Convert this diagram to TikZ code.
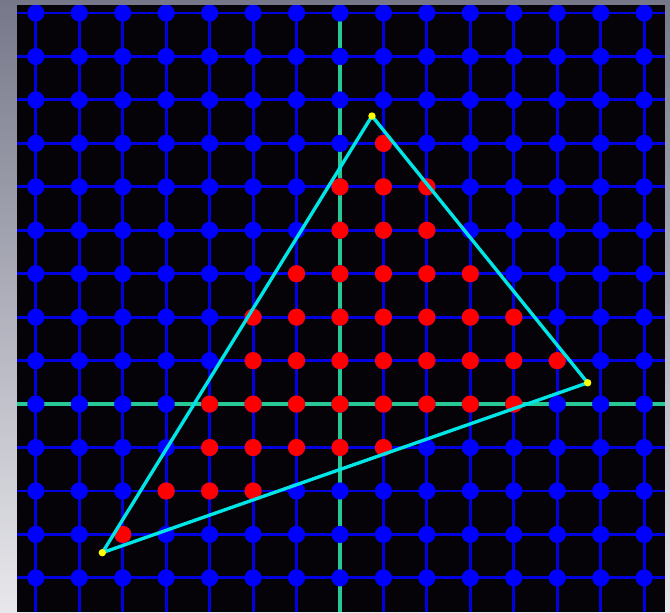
\documentclass[tikz,border=0pt]{standalone}
\definecolor{bgtop}{RGB}{118,120,138}
\definecolor{bgbot}{RGB}{232,232,236}
\definecolor{field}{RGB}{5,3,8}
\definecolor{gridblue}{RGB}{0,0,225}
\definecolor{dotblue}{RGB}{0,0,255}
\definecolor{axisgreen}{RGB}{40,200,150}
\definecolor{edgecyan}{RGB}{0,230,230}
\definecolor{dotred}{RGB}{255,0,0}
\definecolor{vertexyellow}{RGB}{255,255,0}
\begin{document}
\begin{tikzpicture}[x=1cm,y=1cm,
  gridline/.style={draw=gridblue, line width=1.9pt},
  axisline/.style={draw=axisgreen, line width=2.5pt},
  bluedot/.style={fill=dotblue},
  reddot/.style={fill=dotred},
  edgeline/.style={draw=edgecyan, line width=2.2pt, line join=round},
  vertexdot/.style={fill=vertexyellow}]
\useasboundingbox (-7.825,-4.79) rectangle (7.595,9.30);
\shade[top color=bgtop, bottom color=bgbot] (-7.825,-4.79) rectangle (7.595,9.30);
\fill[field] (-7.43,-4.79) rectangle (7.48,9.18);
\begin{scope}
\clip (-7.43,-4.79) rectangle (7.48,9.18);
\foreach \i in {-7,...,7} \draw[gridline] (\i,-4.79) -- (\i,9.18);
\foreach \j in {-4,...,9} \draw[gridline] (-7.43,\j) -- (7.48,\j);
\draw[axisline] (0,-4.79) -- (0,9.18);
\draw[axisline] (-7.43,0) -- (7.48,0);
\foreach \i in {-7,...,7} \foreach \j in {-4,...,9} \fill[bluedot] (\i,\j) circle (0.198);
\foreach \j/\a/\b in {6/1/1,5/0/2,4/0/2,3/-1/3,2/-2/4,1/-2/5,0/-3/4,-1/-3/1,-2/-4/-2,-3/-5/-5}
  \foreach \i in {\a,...,\b} \fill[reddot] (\i,\j) circle (0.198);
\coordinate (A) at (0.736,6.63);
\coordinate (B) at (5.70,0.49);
\coordinate (C) at (-5.47,-3.42);
\draw[edgeline] (A) -- (B) -- (C) -- cycle;
\foreach \p in {A,B,C} \fill[vertexdot] (\p) circle (0.085);
\end{scope}
\end{tikzpicture}
\end{document}
